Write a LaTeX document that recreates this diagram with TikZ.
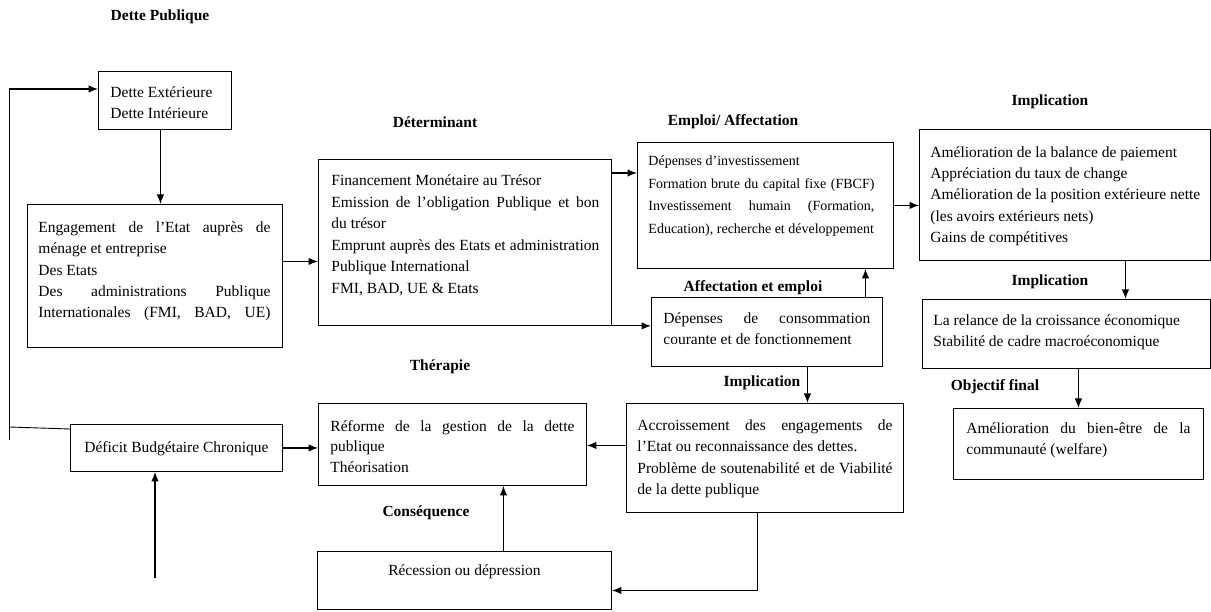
\documentclass[tikz,border=0pt]{standalone}
\usepackage{fontspec}
\setmainfont{Liberation Serif}
\usetikzlibrary{arrows.meta}
\newlength\tw
\newcommand\J[1]{\makebox[\tw][s]{#1}}
% #1 box width, #2 box height, #3 left pad, #4 first baseline, #5 justified width, #6 font size, #7 line skip, #8 text
\newcommand\bxt[8]{\parbox[c][#2][t]{#1}{\fontsize{#6}{#7}\selectfont\setlength\tw{#5}\leftskip=#3\relax
  \vspace*{\dimexpr#4-0.7\baselineskip\relax}\strut#8}}
\begin{document}
\begin{tikzpicture}[x=1pt,y=-1pt,
  box/.style={draw, line width=0.9pt, inner sep=0pt, anchor=north west},
  lab/.style={font=\fontsize{15.5}{18}\selectfont\bfseries, inner sep=0pt},
  arr/.style={line width=1.2pt, -{Latex[length=9.5pt,width=7.5pt]}},
  thin/.style={line width=0.9pt}]
\useasboundingbox (0,0) rectangle (1211,612);

% labels
\node[lab] (lDP)  at (160,17)  {Dette Publique};
\node[lab] (lDet) at (435,122) {Déterminant};
\node[lab] (lEmp) at (733,122) {Emploi/ Affectation};
\node[lab] (lImp1) at (1050,102) {Implication};
\node[lab] (lAff) at (753,288) {Affectation et emploi};
\node[lab] (lImp2) at (1050,282) {Implication};
\node[lab] (lImp3) at (762,383) {Implication};
\node[lab] (lObj) at (995,387) {Objectif final};
\node[lab] (lThe) at (440,367) {Thérapie};
\node[lab] (lCon) at (426,513) {Conséquence};

% boxes
\node[box] (de) at (98,71) {\bxt{133pt}{58pt}{12pt}{26pt}{109pt}{15.5}{21.5}{Dette Extérieure\\Dette Intérieure}};
\node[box] (eng) at (27,204) {\bxt{255pt}{143pt}{11pt}{28pt}{232pt}{15.5}{21.3}{\J{Engagement de l’Etat auprès de}\\ménage et entreprise\\Des Etats\\\J{Des administrations Publique}\\\J{Internationales (FMI, BAD, UE)}}};
\node[box] (det) at (318,159) {\bxt{293pt}{166pt}{13pt}{26pt}{268pt}{15.5}{21.6}{Financement Monétaire au Trésor\\\J{Emission de l’obligation Publique et bon}\\du trésor\\\J{Emprunt auprès des Etats et administration}\\Publique International\\FMI, BAD, UE \& Etats}};
\node[box] (emp) at (637,142) {\bxt{256pt}{126pt}{11pt}{23pt}{226pt}{14}{22.7}{Dépenses d’investissement\\\J{Formation brute du capital fixe (FBCF)}\\\J{Investissement humain (Formation,}\\Education), recherche et développement}};
\node[box] (dep) at (651,297) {\bxt{231pt}{69pt}{12pt}{26pt}{207pt}{15.5}{21.5}{\J{Dépenses de consommation}\\courante et de fonctionnement}};
\node[box] (impl) at (919,129) {\bxt{291pt}{131pt}{11pt}{28pt}{270pt}{15.5}{21.2}{Amélioration de la balance de paiement\\Appréciation du taux de change\\Amélioration de la position extérieure nette\\(les avoirs extérieurs nets)\\Gains de compétitives}};
\node[box] (rel) at (922,299) {\bxt{288pt}{69pt}{11pt}{26pt}{260pt}{15.5}{21.5}{La relance de la croissance économique\\Stabilité de cadre macroéconomique}};
\node[box] (bien) at (953,408) {\bxt{250pt}{71pt}{13pt}{25pt}{224pt}{15.5}{21.5}{\J{Amélioration du bien-être de la}\\communauté (welfare)}};
\node[box] (acc) at (626,403) {\bxt{277pt}{109pt}{11pt}{27pt}{255pt}{15.5}{21.5}{\J{Accroissement des engagements de}\\l’Etat ou reconnaissance des dettes.\\\J{Problème de soutenabilité et de Viabilité}\\de la dette publique}};
\node[box] (ref) at (318,403) {\bxt{268pt}{82pt}{12pt}{28pt}{244pt}{15.5}{20.5}{\J{Réforme de la gestion de la dette}\\publique\\Théorisation}};
\node[box] (def) at (70,424) {\bxt{212pt}{47pt}{0pt}{28pt}{200pt}{15.5}{21.5}{\centering Déficit Budgétaire Chronique}};
\node[box] (rec) at (317,551) {\bxt{294pt}{58pt}{0pt}{24pt}{280pt}{15.5}{21.5}{\centering Récession ou dépression}};

% connectors
\coordinate (lt) at (9,89);
\coordinate (lb) at (9,440);
\coordinate (lm) at (9,427);
\draw[thin] (lb) -- (lt);
\draw[arr] (lt) -- (lt -| de.west);
\draw[thin] (lm) -- ([yshift=-5pt]def.north west);

\draw[arr] ([xshift=-4.5pt]de.south) coordinate (c0) -- (c0 |- eng.north);
\draw[arr] ([yshift=14.5pt]eng.east) coordinate (c1) -- (c1 -| det.west);
\draw[arr] ([yshift=-14pt]det.north east) coordinate (c2) -- (c2 -| emp.west);
\draw[arr] (det.south east) -- (det.south east -| dep.west);
\draw[arr] (emp.east) -- (emp.east -| impl.west);
\draw[arr] ([xshift=98.5pt]dep.north) coordinate (c3) -- (c3 |- emp.south);
\draw[arr] ([xshift=40.5pt]dep.south) coordinate (c4) -- (c4 |- acc.north);
\draw[arr] ([yshift=12.5pt]acc.west) coordinate (c5) -- (c5 -| ref.east);
\draw[arr] (def.east) -- (def.east -| ref.west);
\coordinate (r590) at ([yshift=-10pt]rec.east);
\draw[arr] ([xshift=-7.5pt]acc.south) |- (r590);
\draw[arr] ([xshift=39pt]rec.north) coordinate (c6) -- (c6 |- ref.south);
\draw[arr] ([xshift=60.5pt]impl.south) coordinate (c7) -- (c7 |- rel.north);
\draw[arr] ([xshift=12pt]rel.south) coordinate (c8) -- (c8 |- bien.north);
\coordinate (src) at (155,578);
\draw[arr] (src) -- (src |- def.south);
\end{tikzpicture}
\end{document}
